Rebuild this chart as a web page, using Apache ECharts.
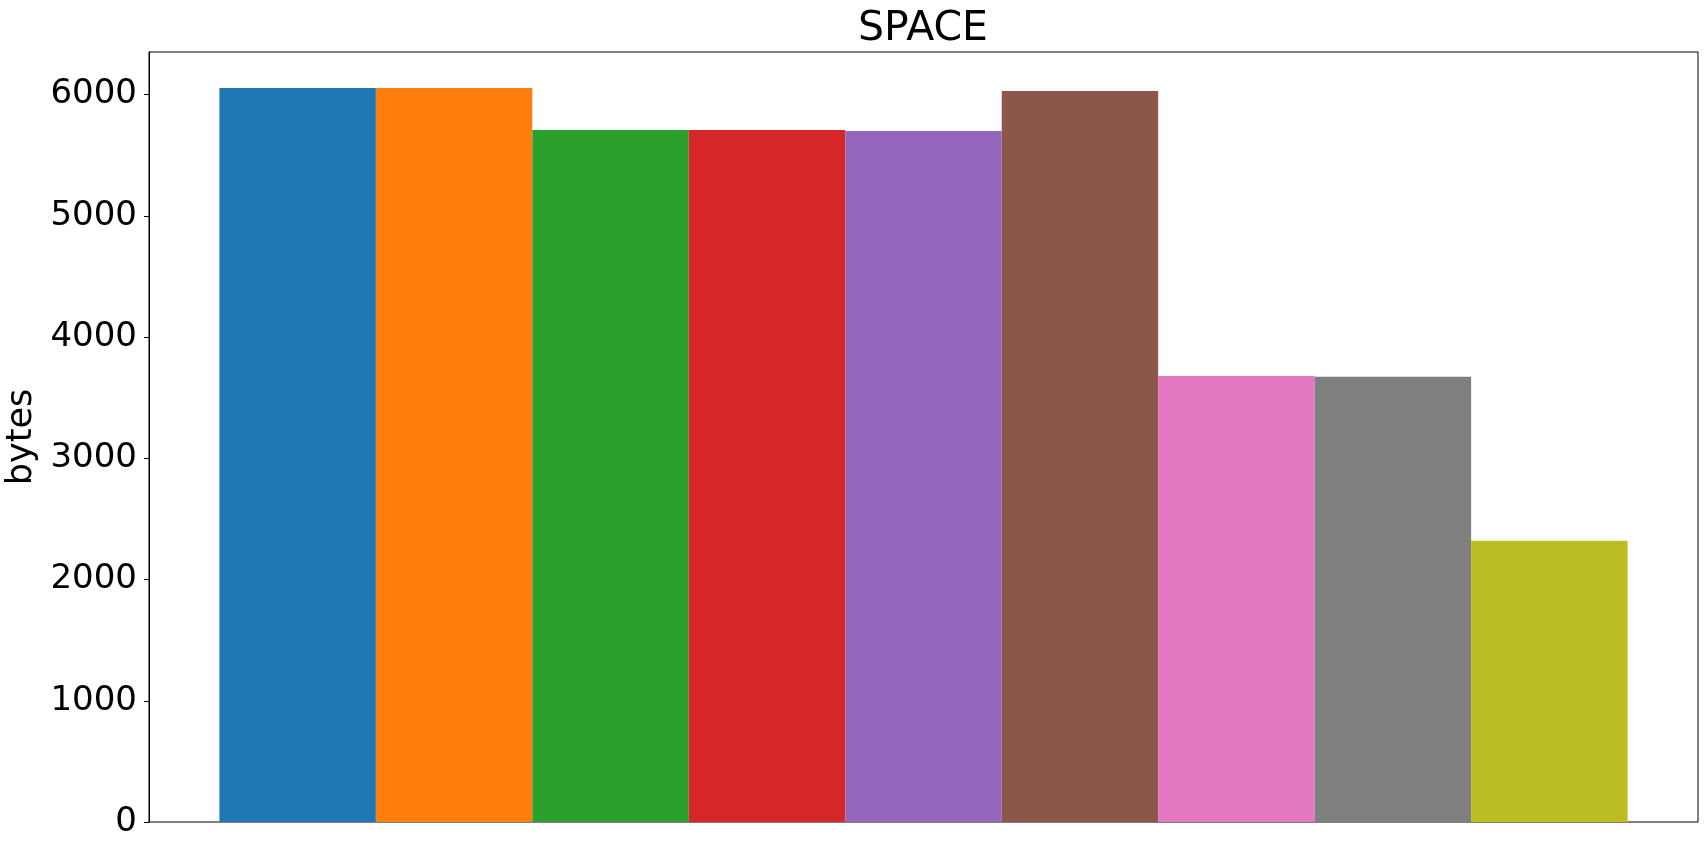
<!DOCTYPE html>
<html>
<head>
<meta charset="utf-8">
<script src="https://cdn.jsdelivr.net/npm/echarts@6/dist/echarts.min.js"></script>
<style>
    html, body { margin: 0; padding: 0; background: #fff; }
    #chart { width: 1707px; height: 852px; }
</style>
</head>
<body>
<div id="chart"></div>
<script>
// one bar per slot, matplotlib tab10 colours
const positions = [0, 1, 2, 3, 4, 5, 6, 7, 8];
const sizes = [6055, 6055, 5708, 5708, 5700, 6031, 3680, 3672, 2320];
const colors = ['#1f77b4', '#ff7f0e', '#2ca02c', '#d62728', '#9467bd',
    '#8c564b', '#e377c2', '#7f7f7f', '#bcbd22'];
const yTicks = [0, 1000, 2000, 3000, 4000, 5000, 6000];

const FONT = 'DejaVu Sans';

let chart = echarts.init(document.getElementById('chart'), null, {
    renderer: 'canvas'
});

const option = {
    animation: false,
    title: {
        text: 'SPACE',
        left: 918,
        textAlign: 'center',
        top: 4,
        textStyle: {
            fontFamily: FONT,
            fontSize: 41,
            fontWeight: 'normal',
            color: '#000'
        }
    },
    grid: {
        left: 149,
        right: 9,
        top: 52,
        bottom: 30,
        outerBoundsMode: 'none',
        show: true,
        borderColor: '#000',
        borderWidth: 1,
        backgroundColor: '#fff'
    },
    xAxis: {
        type: 'value',
        min: -0.95,
        max: 8.95,
        axisLine: { show: false },
        axisTick: { show: false },
        axisLabel: { show: false },
        splitLine: { show: false }
    },
    yAxis: {
        type: 'value',
        min: 0,
        max: 6352,
        interval: 1000,
        name: 'bytes',
        nameLocation: 'middle',
        nameGap: 99,
        nameTextStyle: {
            fontFamily: FONT,
            fontSize: 35,
            color: '#000'
        },
        axisLine: { show: true, onZero: false, lineStyle: { color: '#000', width: 1 } },
        axisTick: { show: true, length: 5, lineStyle: { color: '#000', width: 1 } },
        axisLabel: {
            margin: 12,
            showMaxLabel: false,
            fontFamily: FONT,
            fontSize: 34,
            color: '#000',
            formatter: v => (yTicks.includes(v) ? String(v) : '')
        },
        splitLine: { show: false }
    },
    series: [
        {
            type: 'bar',
            barWidth: '100%',
            data: positions.map((p, i) => ({
                value: [p, sizes[i]],
                itemStyle: { color: colors[i] }
            }))
        }
    ]
};

chart.setOption(option);
</script>
</body>
</html>
